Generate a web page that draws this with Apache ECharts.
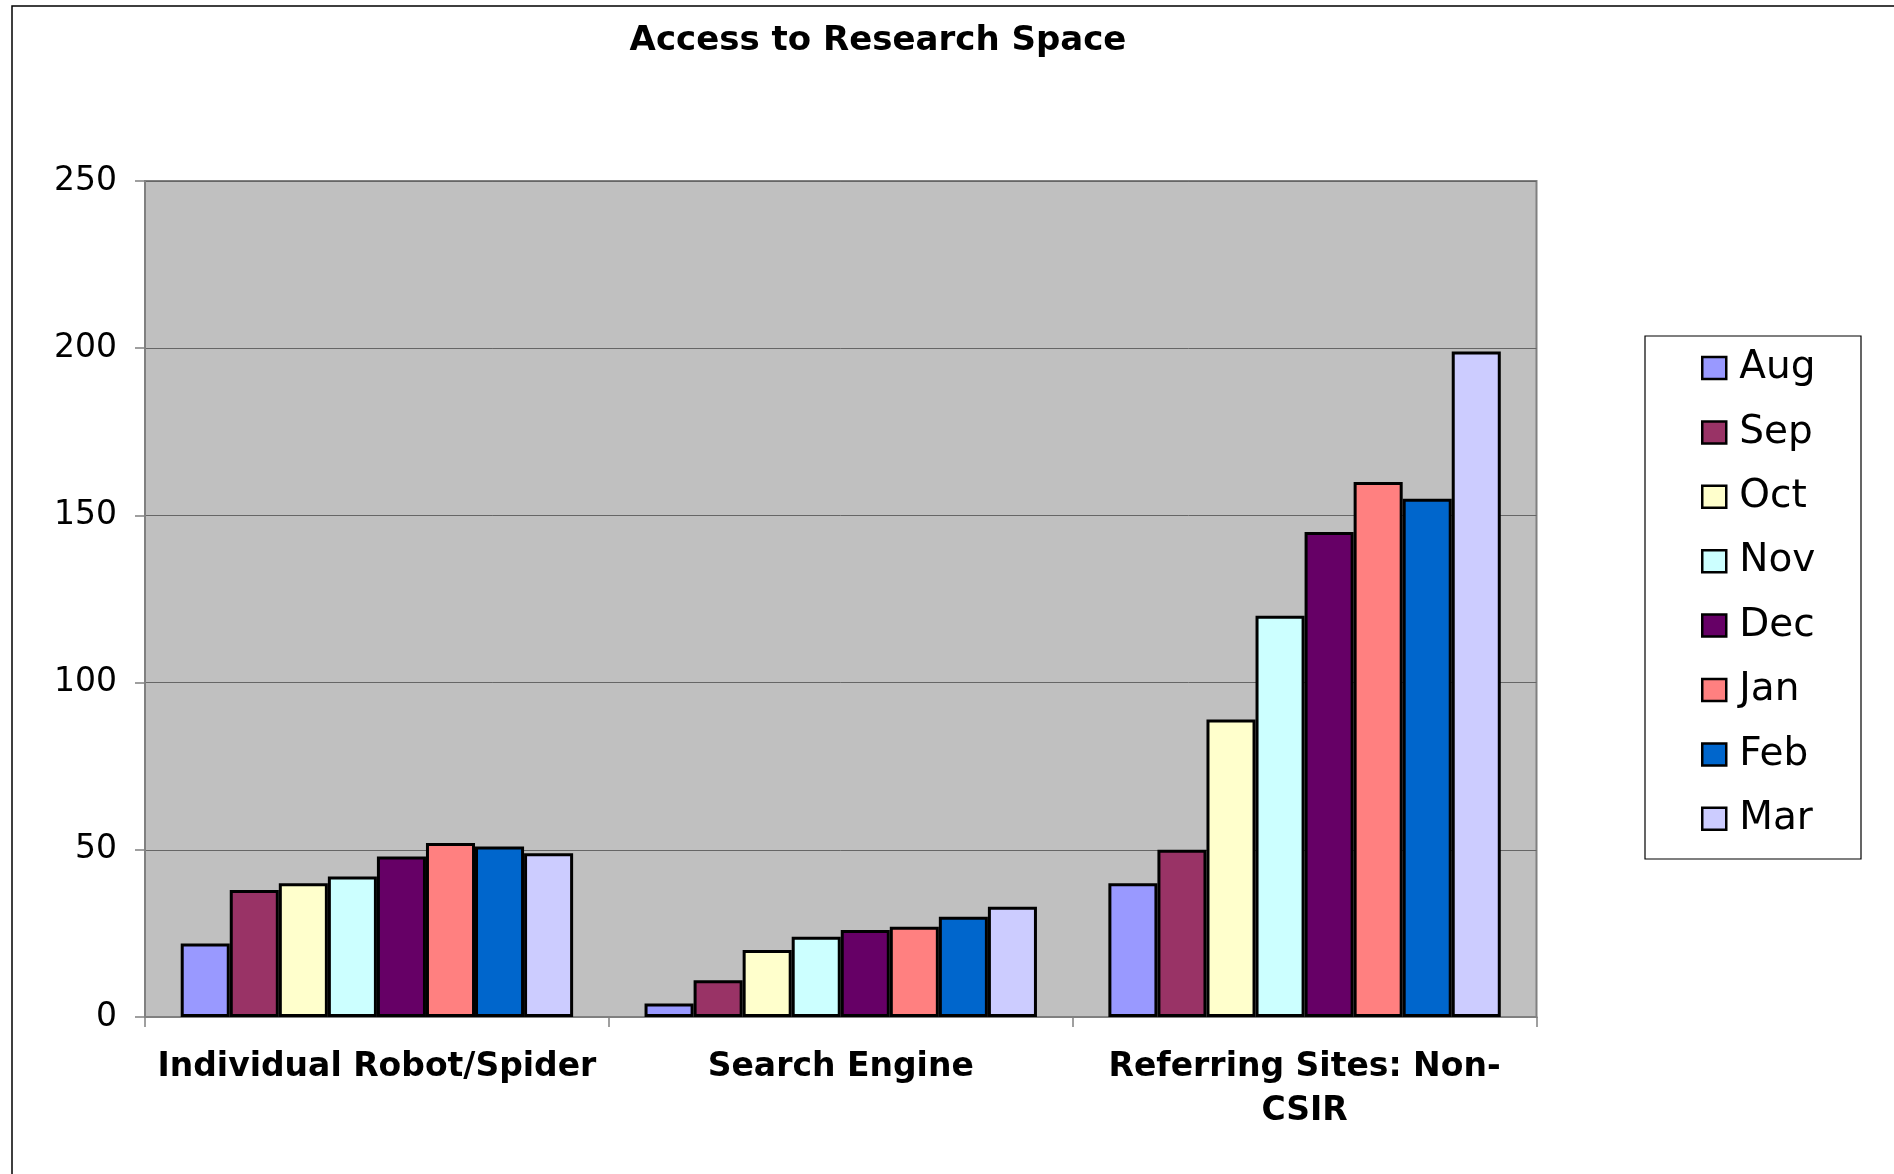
<!DOCTYPE html>
<html>
<head>
<meta charset="utf-8">
<script src="https://cdn.jsdelivr.net/npm/echarts@6/dist/echarts.min.js"></script>
<style>
html,body{margin:0;padding:0;background:#fff;}
#chart{width:1894px;height:1174px;}
</style>
</head>
<body>
<div id="chart"></div>
<script>
const categories = ['Individual Robot/Spider', 'Search Engine', 'Referring Sites: Non-CSIR'];
const months = ['Aug', 'Sep', 'Oct', 'Nov', 'Dec', 'Jan', 'Feb', 'Mar'];
const colors = ['#9999FF', '#993366', '#FFFFCC', '#CCFFFF', '#660066', '#FF8080', '#0066CC', '#CCCCFF'];
const aug = [22, 4, 40];
const sep = [38, 11, 50];
const oct = [40, 20, 89];
const nov = [42, 24, 120];
const dec = [48, 26, 145];
const jan = [52, 27, 160];
const feb = [51, 30, 155];
const mar = [49, 33, 199];
const yTicks = [0, 50, 100, 150, 200, 250];

const seriesValues = [aug, sep, oct, nov, dec, jan, feb, mar];
const FONT = 'DejaVu Sans';

const chart = echarts.init(document.getElementById('chart'));
chart.setOption({
  backgroundColor: '#ffffff',
  animation: false,
  title: {
    text: 'Access to Research Space',
    left: 873, top: 19,
    textAlign: 'center',
    textStyle: {fontFamily: FONT, fontWeight: 'bold', fontSize: 34, color: '#000'}
  },
  graphic: [
    {type: 'rect', shape: {x: 12, y: 6, width: 1900, height: 1200},
     style: {fill: 'none', stroke: '#000', lineWidth: 1.5}, silent: true, z: -10},
    {type: 'rect', shape: {x: 1645, y: 336, width: 216, height: 523},
     style: {fill: '#fff', stroke: '#000', lineWidth: 1.2}, silent: true, z: -5}
  ],
  legend: {
    orient: 'vertical',
    left: 1701, top: 348,
    padding: 0,
    itemWidth: 24, itemHeight: 22,
    itemGap: 24.4,
    icon: 'rect',
    data: months,
    itemStyle: {borderColor: '#000', borderWidth: 2.5},
    textStyle: {fontFamily: FONT, fontSize: 39, color: '#000', lineHeight: 40, padding: [0, 0, 0, 8]}
  },
  grid: {
    left: 145, top: 181, right: 357.5, bottom: 157,
    show: true, backgroundColor: '#C0C0C0', borderColor: '#808080', borderWidth: 2,
    containLabel: false
  },
  xAxis: {
    type: 'category',
    data: categories,
    axisLine: {lineStyle: {color: '#808080', width: 2}},
    axisTick: {show: true, length: 10, lineStyle: {color: '#808080', width: 1.5}},
    axisLabel: {
      fontFamily: FONT, fontWeight: 'bold', fontSize: 33, color: '#000',
      lineHeight: 44, margin: 28, interval: 0,
      formatter: v => v.replace('Non-', 'Non-\n')
    }
  },
  yAxis: {
    type: 'value',
    min: yTicks[0], max: yTicks[yTicks.length - 1], interval: 50,
    axisLine: {show: true, lineStyle: {color: '#808080', width: 2}},
    axisTick: {show: true, length: 10, lineStyle: {color: '#808080', width: 1.5}},
    axisLabel: {fontFamily: FONT, fontSize: 33, color: '#000', margin: 28},
    splitLine: {lineStyle: {color: '#666666', width: 1}}
  },
  series: months.map((m, i) => ({
    name: m,
    type: 'bar',
    data: seriesValues[i],
    barGap: '0%',
    barCategoryGap: '15.4%',
    itemStyle: {color: colors[i], borderColor: '#000', borderWidth: 3}
  }))
});
</script>
</body>
</html>
